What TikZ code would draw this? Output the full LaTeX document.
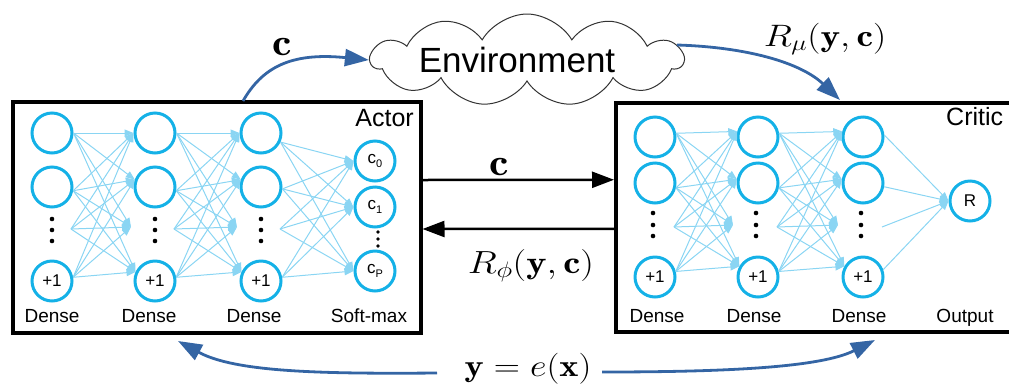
\RequirePackage{fix-cm}
\documentclass[tikz,border=0pt]{standalone}
\usepackage{fontspec}
\newfontfamily\sansf{Liberation Sans}
\usetikzlibrary{arrows.meta,shapes.symbols}
\definecolor{neur}{HTML}{14B1E7}
\definecolor{conn}{HTML}{8AD5F3}
\definecolor{arrblue}{HTML}{3465A4}
\tikzset{
 neuron/.style={circle, draw=neur, line width=3pt, minimum size=40pt, inner sep=0pt, fill=white, font=\sansf\fontsize{17}{17}\selectfont},
 link/.style={draw=conn, line width=1pt, -{Triangle[length=9pt,width=7pt]}},
 boxframe/.style={draw=black, line width=4pt, inner sep=0pt},
 lbl/.style={font=\sansf\fontsize{19}{19}\selectfont, inner sep=0pt},
 title/.style={font=\sansf\fontsize{25}{25}\selectfont, inner sep=0pt},
 midarr/.style={draw=black, line width=2.5pt, -{Triangle[length=22pt,width=16pt]}},
 bluearr/.style={draw=arrblue, line width=2.8pt, -{Triangle[length=24pt,width=17pt]}},
 mlbl/.style={inner sep=0pt, anchor=base},
}
\newcommand\mlab[3]{\scalebox{#1}[1]{\fontsize{#2}{#2}\selectfont$#3$}}
\newcommand\csub[1]{c\raisebox{-4pt}{\fontsize{11}{11}\selectfont #1}}
\begin{document}
\begin{tikzpicture}[x=1pt,y=-1pt]
\path[use as bounding box, clip] (0,0) rectangle (1009,384);
% boxes
\node[boxframe, minimum width=407.5pt, minimum height=231pt] (actor) at (216.75,217.5) {};
\node[boxframe, minimum width=400pt, minimum height=229.5pt] (critic) at (816,217.25) {};
\node[title, anchor=base east] (actorlbl) at (414,126) {Actor};
\node[title, anchor=base west] (criticlbl) at (946,125) {Critic};
% actor network
\foreach \c/\x in {1/52,2/155,3/261}{
 \node[neuron] (Aa\c) at (\x,133) {};
 \node[neuron] (Ab\c) at (\x,187) {};
 \node[neuron] (Ap\c) at (\x,281) {+1};
 \foreach \yy in {219,230,241} \fill (\x,\yy) circle (2.3);
 \coordinate (Ads\c) at (\x+19,229);
 \coordinate (Adt\c) at (\x-24,227);
}
\node[neuron] (S0) at (375,161) {\csub{0}};
\node[neuron] (S1) at (375,207) {\csub{1}};
\node[neuron] (SP) at (375,271) {\csub{P}};
\foreach \yy in {232,239,246} \fill (378,\yy) circle (1.9);
\foreach \s/\t in {1/2,2/3}
 \foreach \src in {Aa\s.east, Ab\s.-10, Ads\s, Ap\s.10}
  \foreach \tgt in {Aa\t.west, Ab\t.160, Adt\t, Ap\t.155}
   \draw[link] (\src) -- (\tgt);
\foreach \src in {Aa3.-25, Ab3.-5, Ads3, Ap3.10}
 \foreach \tgt in {S0.west, S1.west, SP.west}
  \draw[link] (\src) -- (\tgt);
\node[lbl, anchor=base] (ad1) at (52,322) {Dense};
\node[lbl, anchor=base] (ad2) at (149,322) {Dense};
\node[lbl, anchor=base] (ad3) at (254,322) {Dense};
\node[lbl, anchor=base] (asm) at (369,322) {Soft-max};
% critic network
\foreach \c/\x in {1/655,2/758,3/863}{
 \node[neuron] (Ca\c) at (\x,137) {};
 \node[neuron] (Cb\c) at (\x,183) {};
 \node[neuron] (Cp\c) at (\x,277) {+1};
 \foreach \yy in {213,225,236} \fill (\x-2,\yy) circle (2.3);
 \coordinate (Cds\c) at (\x+19,227);
 \coordinate (Cdt\c) at (\x-25,225);
}
\node[neuron] (R) at (970,201) {R};
\foreach \s/\t in {1/2,2/3}
 \foreach \src in {Ca\s.10, Cb\s.-13, Cds\s, Cp\s.15}
  \foreach \tgt in {Ca\t.165, Cb\t.170, Cdt\t, Cp\t.150}
   \draw[link] (\src) -- (\tgt);
\foreach \src in {Ca3.5, Cb3.-10, Cds3, Cp3.20}
 \draw[link] (\src) -- (R.west);
\node[lbl, anchor=base] (cd1) at (657,322) {Dense};
\node[lbl, anchor=base] (cd2) at (754,322) {Dense};
\node[lbl, anchor=base] (cd3) at (859,322) {Dense};
\node[lbl, anchor=base] (cout) at (965,322) {Output};
% middle arrows
\draw[midarr] ([yshift=37.5pt]actor.east) -- ([yshift=37.5pt]critic.west);
\draw[midarr] ([yshift=-11.5pt]critic.west) -- ([yshift=-11.5pt]actor.east);
\node[mlbl] (cmid) at (499,175) {\mlab{1.15}{38}{\mathbf{c}}};
\node[mlbl] (rphi) at (531,273) {\mlab{1.2}{32}{R_\phi(\mathbf{y},\mathbf{c})}};
% environment
\node[cloud, cloud ignores aspect, draw=black!80, fill=white, line width=1pt, cloud puffs=11, cloud puff arc=120, minimum width=312pt, minimum height=92pt, inner sep=0pt] (env) at (527,60) {};
\node[font=\sansf\fontsize{35}{35}\selectfont, anchor=base, inner sep=0pt] (envtxt) at (517,72) {Environment};
\coordinate (cstart) at (243,101);
\draw[bluearr] (cstart) .. controls (262,68) and (290,52) .. (env.west);
\node[mlbl] (ctop) at (282,55) {\mlab{1.15}{38}{\mathbf{c}}};
\coordinate (rmstart) at (677,45);
\coordinate (rmend) at (840,100);
\draw[bluearr] (rmstart) .. controls (745,47) and (800,62) .. (rmend);
\node[mlbl] (rmu) at (825,46) {\mlab{1.2}{31}{R_\mu(\mathbf{y},\mathbf{c})}};
% bottom
\node[mlbl] (yex) at (528,376) {\mlab{1.17}{31}{\mathbf{y}=e(\mathbf{x})}};
\coordinate (yl) at (437,373);
\coordinate (yr) at (602,372);
\coordinate (ytipl) at (178,341);
\coordinate (ytipr) at (875,340);
\draw[bluearr] (yl) .. controls (320,374) and (235,372) .. (ytipl);
\draw[bluearr] (yr) .. controls (720,372) and (820,368) .. (ytipr);
\end{tikzpicture}
\end{document}
